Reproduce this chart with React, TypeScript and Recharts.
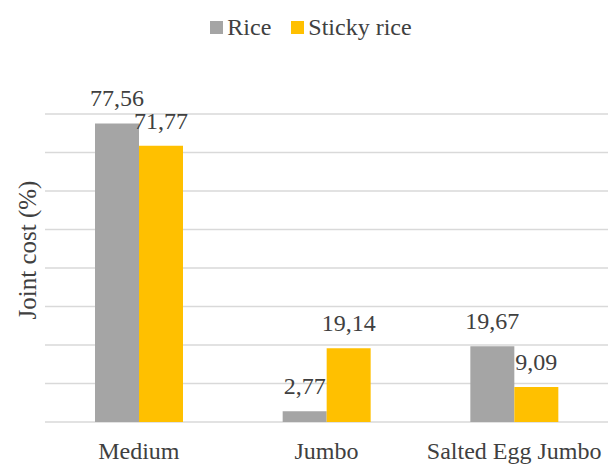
import React from 'react';
import { BarChart, Bar, XAxis, YAxis, CartesianGrid, Legend, LabelList } from 'recharts';

const categories = ['Medium', 'Jumbo', 'Salted Egg Jumbo'];
const rice = [77.56, 2.77, 19.67];
const stickyRice = [71.77, 19.14, 9.09];
const yTicks = [0, 10, 20, 30, 40, 50, 60, 70, 80];

const data = categories.map((name, i) => ({
  name,
  rice: rice[i],
  sticky: stickyRice[i],
}));

const TEXT = '#404040';
const FONT = '"Liberation Serif", "Times New Roman", serif';

const fmt = (v: any) => Number(v).toFixed(2).replace('.', ',');

const renderLegend = (props: any) => {
  const { payload } = props;
  return (
    <div style={{ display: 'flex', justifyContent: 'center', alignItems: 'center', height: 28 }}>
      {payload.map((entry: any, i: number) => (
        <div
          key={entry.value}
          style={{ display: 'flex', alignItems: 'center', marginRight: i < payload.length - 1 ? 20 : 0 }}
        >
          <span style={{ width: 13, height: 13, background: entry.color, display: 'inline-block', marginRight: 4 }} />
          <span style={{ fontSize: 24, color: TEXT, fontFamily: FONT }}>{entry.value}</span>
        </div>
      ))}
    </div>
  );
};

// y ticks are kept (for the grid) but not drawn
const NoTick = () => <g />;

export default function App() {
  return (
    <div style={{ position: 'absolute', left: 0, top: 0, background: '#fff', fontFamily: FONT }}>
      <BarChart
        width={608}
        height={465}
        data={data}
        margin={{ top: 114, right: 0, bottom: 0, left: 0 }}
        barGap={0}
      >
        <CartesianGrid vertical={false} stroke="#d9d9d9" strokeWidth={1.5} />
        <XAxis
          dataKey="name"
          axisLine={false}
          tickLine={false}
          tickMargin={14}
          height={43}
          tick={{ fill: TEXT, fontSize: 24, fontFamily: FONT }}
          interval={0}
        />
        <YAxis
          domain={[0, 80]}
          ticks={yTicks}
          interval={0}
          tick={NoTick}
          axisLine={false}
          tickLine={false}
          width={45}
          label={{
            value: 'Joint cost (%)',
            angle: -90,
            position: 'center',
            dx: 5,
            dy: -18,
            style: { fill: TEXT, fontSize: 25, fontFamily: FONT },
          }}
        />
        <Legend
          verticalAlign="middle"
          align="center"
          content={renderLegend}
          wrapperStyle={{ top: 13, left: 7, width: 608 }}
        />
        <Bar dataKey="rice" name="Rice" fill="#A5A5A5" barSize={44} isAnimationActive={false}>
          <LabelList dataKey="rice" position="top" offset={17} formatter={fmt} fill={TEXT} fontSize={24} fontFamily={FONT} />
        </Bar>
        <Bar dataKey="sticky" name="Sticky rice" fill="#FFC000" barSize={44} isAnimationActive={false}>
          <LabelList dataKey="sticky" position="top" offset={17} formatter={fmt} fill={TEXT} fontSize={24} fontFamily={FONT} />
        </Bar>
      </BarChart>
    </div>
  );
}
